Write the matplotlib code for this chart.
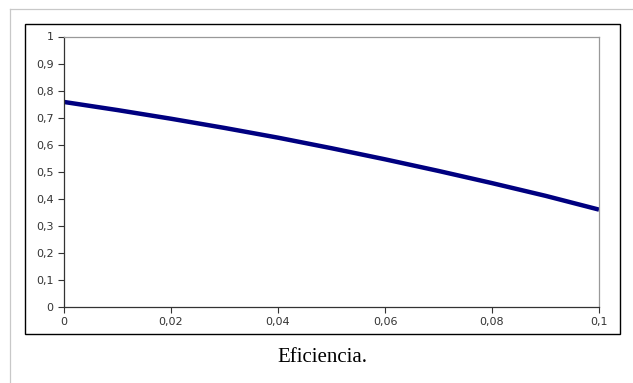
import matplotlib
matplotlib.use("Agg")
import matplotlib.pyplot as plt
from matplotlib.patches import Rectangle
from matplotlib.lines import Line2D

# Data
x_vals = [0.00, 0.01, 0.02, 0.03, 0.04, 0.05, 0.06, 0.07, 0.08, 0.09, 0.10]
efficiency = [0.758, 0.728, 0.696, 0.662, 0.626, 0.587, 0.546, 0.503, 0.458, 0.411, 0.360]
x_ticks = [0, 0.02, 0.04, 0.06, 0.08, 0.1]
x_tick_labels = ["0", "0,02", "0,04", "0,06", "0,08", "0,1"]
y_ticks = [0, 0.1, 0.2, 0.3, 0.4, 0.5, 0.6, 0.7, 0.8, 0.9, 1]
y_tick_labels = ["0", "0,1", "0,2", "0,3", "0,4", "0,5", "0,6", "0,7", "0,8", "0,9", "1"]
caption = "Eficiencia."

W, H = 633, 383
fig = plt.figure(figsize=(W / 100, H / 100), dpi=100)

def fx(px):
    return px / W

def fy(py):
    return 1 - py / H

# outer light gray frame (top and left visible)
fig.add_artist(Line2D([fx(9.5), fx(633)], [fy(8.5), fy(8.5)], color="#c8c8c8", lw=0.9))
fig.add_artist(Line2D([fx(9.5), fx(9.5)], [fy(8.5), fy(383)], color="#c8c8c8", lw=0.9))

# inner black box
fig.add_artist(Rectangle((fx(24.5), fy(333.5)), fx(619.5) - fx(24.5), fy(23.5) - fy(333.5),
                         fill=False, edgecolor="black", lw=1.0))

ax = fig.add_axes([fx(64), fy(307), fx(599) - fx(64), fy(36.5) - fy(307)])
ax.plot(x_vals, efficiency, color="#000080", lw=3.2, solid_capstyle="butt")
ax.set_xlim(0, 0.1)
ax.set_ylim(0, 1)
ax.set_xticks(x_ticks)
ax.set_xticklabels(x_tick_labels)
ax.set_yticks(y_ticks)
ax.set_yticklabels(y_tick_labels)
ax.tick_params(axis="both", direction="out", length=4.5, width=0.8, color="#333333",
               labelsize=8, labelcolor="#333333", pad=3)
for s in ["left", "bottom"]:
    ax.spines[s].set_color("#333333")
    ax.spines[s].set_linewidth(0.9)
for s in ["top", "right"]:
    ax.spines[s].set_color("#999999")
    ax.spines[s].set_linewidth(0.9)

fig.text(fx(322), fy(358), caption, ha="center", va="center",
         family="Liberation Serif", fontsize=15, color="black")

fig.savefig("out.png", dpi=100)
